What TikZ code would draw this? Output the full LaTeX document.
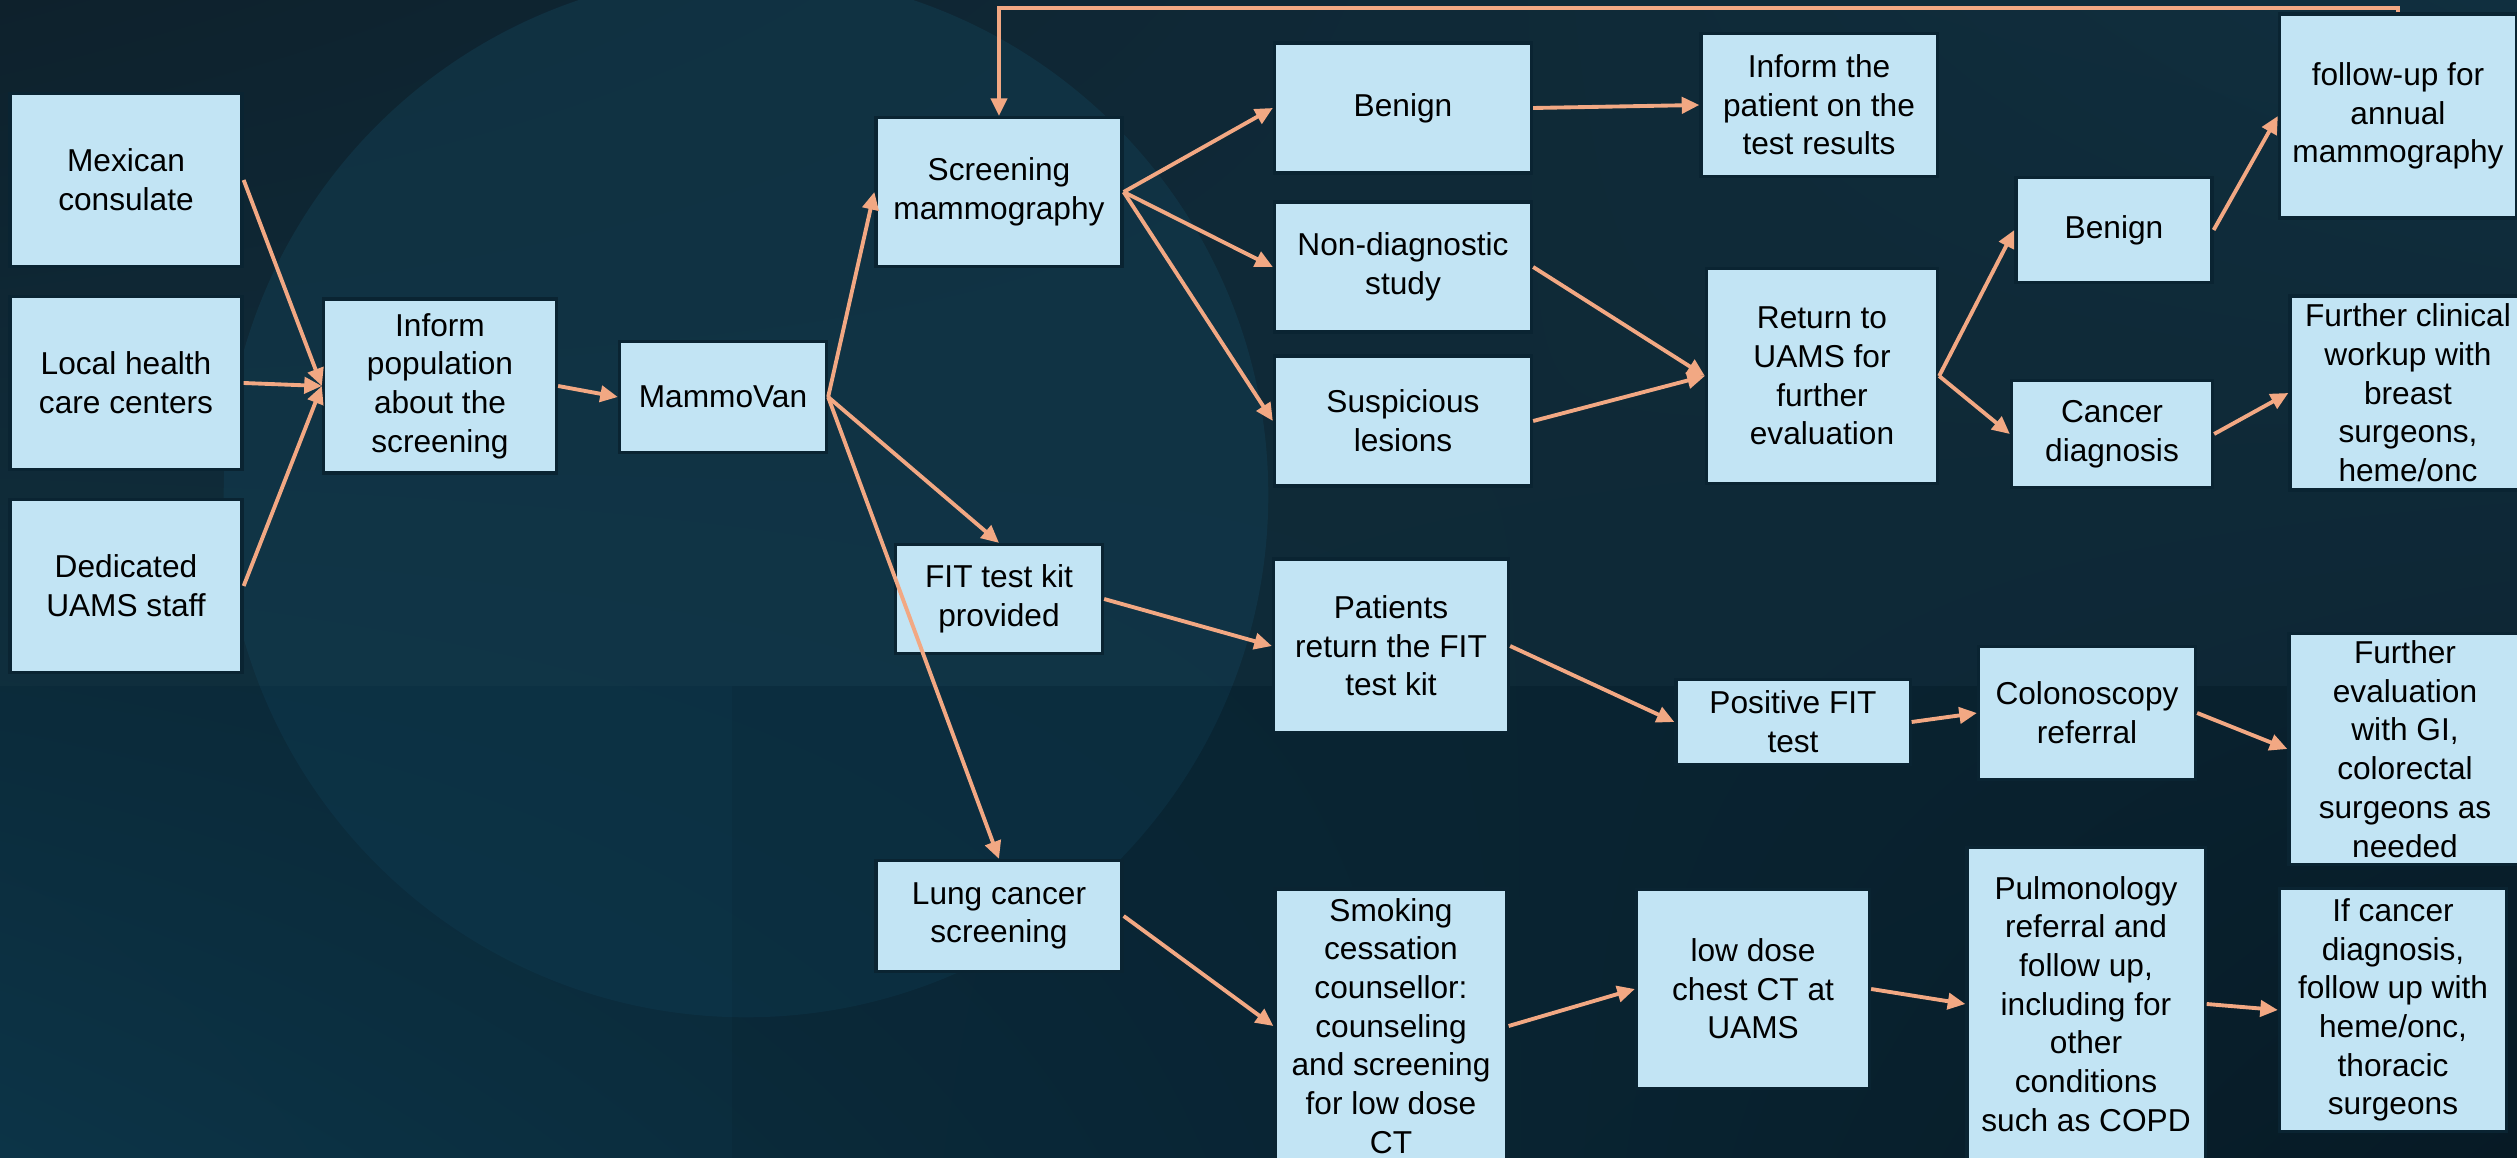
\documentclass[tikz,border=0pt]{standalone}
\usepackage{fontspec}
\setmainfont{Liberation Sans}
\usetikzlibrary{arrows.meta,shadings}

\definecolor{boxfill}{HTML}{C2E4F4}
\definecolor{boxline}{HTML}{0A2432}
\definecolor{arrowcol}{HTML}{F2A883}
\definecolor{circfill}{HTML}{0E384D}
\definecolor{bgul}{HTML}{0A1D28}
\definecolor{bgur}{HTML}{0C2B3C}
\definecolor{bgll}{HTML}{0C3447}
\definecolor{bglr}{HTML}{081C28}

\tikzset{
  box/.style={draw=boxline, line width=0.9pt, fill=boxfill, align=center,
    inner sep=2pt, font=\fontsize{9}{11}\selectfont},
  arr/.style={draw=arrowcol, line width=1.1pt, -{Triangle[length=5pt,width=4.6pt]}},
}

\begin{document}
\begin{tikzpicture}[x=0.01cm, y=-0.01cm]
  % background
  \useasboundingbox (0,0) rectangle (2517,1158);
  \shade[upper left=bgul, upper right=bgur, lower left=bgll, lower right=bglr]
    (0,0) rectangle (2517,1158);
  \fill[circfill, opacity=0.55] (746,495) circle (5.22cm);
  \fill[white, opacity=0.02] (0,0) rectangle (2517,686);
  \fill[black, opacity=0.05] (732,686) rectangle (2517,1158);

  % outreach
  \node[box, minimum width=2.32cm, minimum height=1.73cm] (mex) at (126,180) {Mexican\\consulate};
  \node[box, minimum width=2.32cm, minimum height=1.73cm] (local) at (126,383) {Local health\\care centers};
  \node[box, minimum width=2.32cm, minimum height=1.73cm] (staff) at (126,586) {Dedicated\\UAMS staff};
  \node[box, minimum width=2.33cm, minimum height=1.74cm] (inform) at (440,386) {Inform\\population\\about the\\screening};
  \node[box, minimum width=2.07cm, minimum height=1.11cm] (van) at (723,397) {MammoVan};

  % breast
  \node[box, minimum width=2.46cm, minimum height=1.49cm] (mammo) at (999,192) {Screening\\mammography};
  \node[box, minimum width=2.57cm, minimum height=1.30cm] (ben1) at (1403,108) {Benign};
  \node[box, minimum width=2.36cm, minimum height=1.43cm] (result) at (1819,105) {Inform the\\patient on the\\test results};
  \node[box, minimum width=2.57cm, minimum height=1.30cm] (nondx) at (1403,267) {Non-diagnostic\\study};
  \node[box, minimum width=2.57cm, minimum height=1.30cm] (susp) at (1403,421) {Suspicious\\lesions};
  \node[box, minimum width=2.31cm, minimum height=2.15cm] (ret) at (1822,376) {Return to\\UAMS for\\further\\evaluation};
  \node[box, minimum width=1.96cm, minimum height=1.05cm] (ben2) at (2114,230) {Benign};
  \node[box, minimum width=2.01cm, minimum height=1.07cm] (cdx) at (2112,434) {Cancer\\diagnosis};
  \node[box, minimum width=2.37cm, minimum height=2.04cm] (annual) at (2398,116) {follow-up for\\annual\\mammography};
  \node[box, minimum width=2.36cm, minimum height=1.94cm] (clin) at (2408,393) {Further clinical\\workup with\\breast\\surgeons,\\heme/onc};

  % colorectal
  \node[box, minimum width=2.07cm, minimum height=1.09cm] (fit) at (999,599) {FIT test kit\\provided};
  \node[box, minimum width=2.35cm, minimum height=1.74cm] (fitret) at (1391,646) {Patients\\return the FIT\\test kit};
  \node[box, minimum width=2.34cm, minimum height=0.85cm] (pos) at (1793,722) {Positive FIT\\test};
  \node[box, minimum width=2.17cm, minimum height=1.33cm] (colo) at (2087,713) {Colonoscopy\\referral};
  \node[box, minimum width=2.32cm, minimum height=2.30cm] (gi) at (2405,749) {Further\\evaluation\\with GI,\\colorectal\\surgeons as\\needed};

  % lung
  \node[box, minimum width=2.46cm, minimum height=1.11cm] (lung) at (999,916) {Lung cancer\\screening};
  \node[box, minimum width=2.32cm, minimum height=2.74cm] (smoke) at (1391,1026) {Smoking\\cessation\\counsellor:\\counseling\\and screening\\for low dose\\CT};
  \node[box, minimum width=2.33cm, minimum height=1.99cm] (ldct) at (1753,989) {low dose\\chest CT at\\UAMS};
  \node[box, minimum width=2.38cm, minimum height=3.12cm] (pulm) at (2086,1004) {Pulmonology\\referral and\\follow up,\\including for\\other\\conditions\\such as COPD};
  \node[box, minimum width=2.27cm, minimum height=2.43cm] (onc) at (2393,1010) {If cancer\\diagnosis,\\follow up with\\heme/onc,\\thoracic\\surgeons};

  \coordinate (loop) at (999,8);

  \foreach \a in {mex,local,staff}
    \draw[arr] (\a.east) -- (inform.west);
  \draw[arr] (inform.east) -- (van.west);
  \draw[arr] (van.east) -- (mammo.west);
  \draw[arr] (van.east) -- (fit.north);
  \draw[arr] (van.east) -- (lung.north);
  \foreach \b in {ben1,nondx,susp}
    \draw[arr] (mammo.east) -- (\b.west);
  \draw[arr] (ben1.east) -- (result.west);
  \draw[arr] (nondx.east) -- (ret.west);
  \draw[arr] (susp.east) -- (ret.west);
  \draw[arr] (ret.east) -- (ben2.west);
  \draw[arr] (ret.east) -- (cdx.west);
  \draw[arr] (ben2.east) -- (annual.west);
  \draw[arr] (cdx.east) -- (clin.west);
  \draw[arr] (annual.north) |- (loop) -- (mammo.north);
  \draw[arr] (fit.east) -- (fitret.west);
  \draw[arr] (fitret.east) -- (pos.west);
  \draw[arr] (pos.east) -- (colo.west);
  \draw[arr] (colo.east) -- (gi.west);
  \draw[arr] (lung.east) -- (smoke.west);
  \draw[arr] (smoke.east) -- (ldct.west);
  \draw[arr] (ldct.east) -- (pulm.west);
  \draw[arr] (pulm.east) -- (onc.west);
\end{tikzpicture}
\end{document}
